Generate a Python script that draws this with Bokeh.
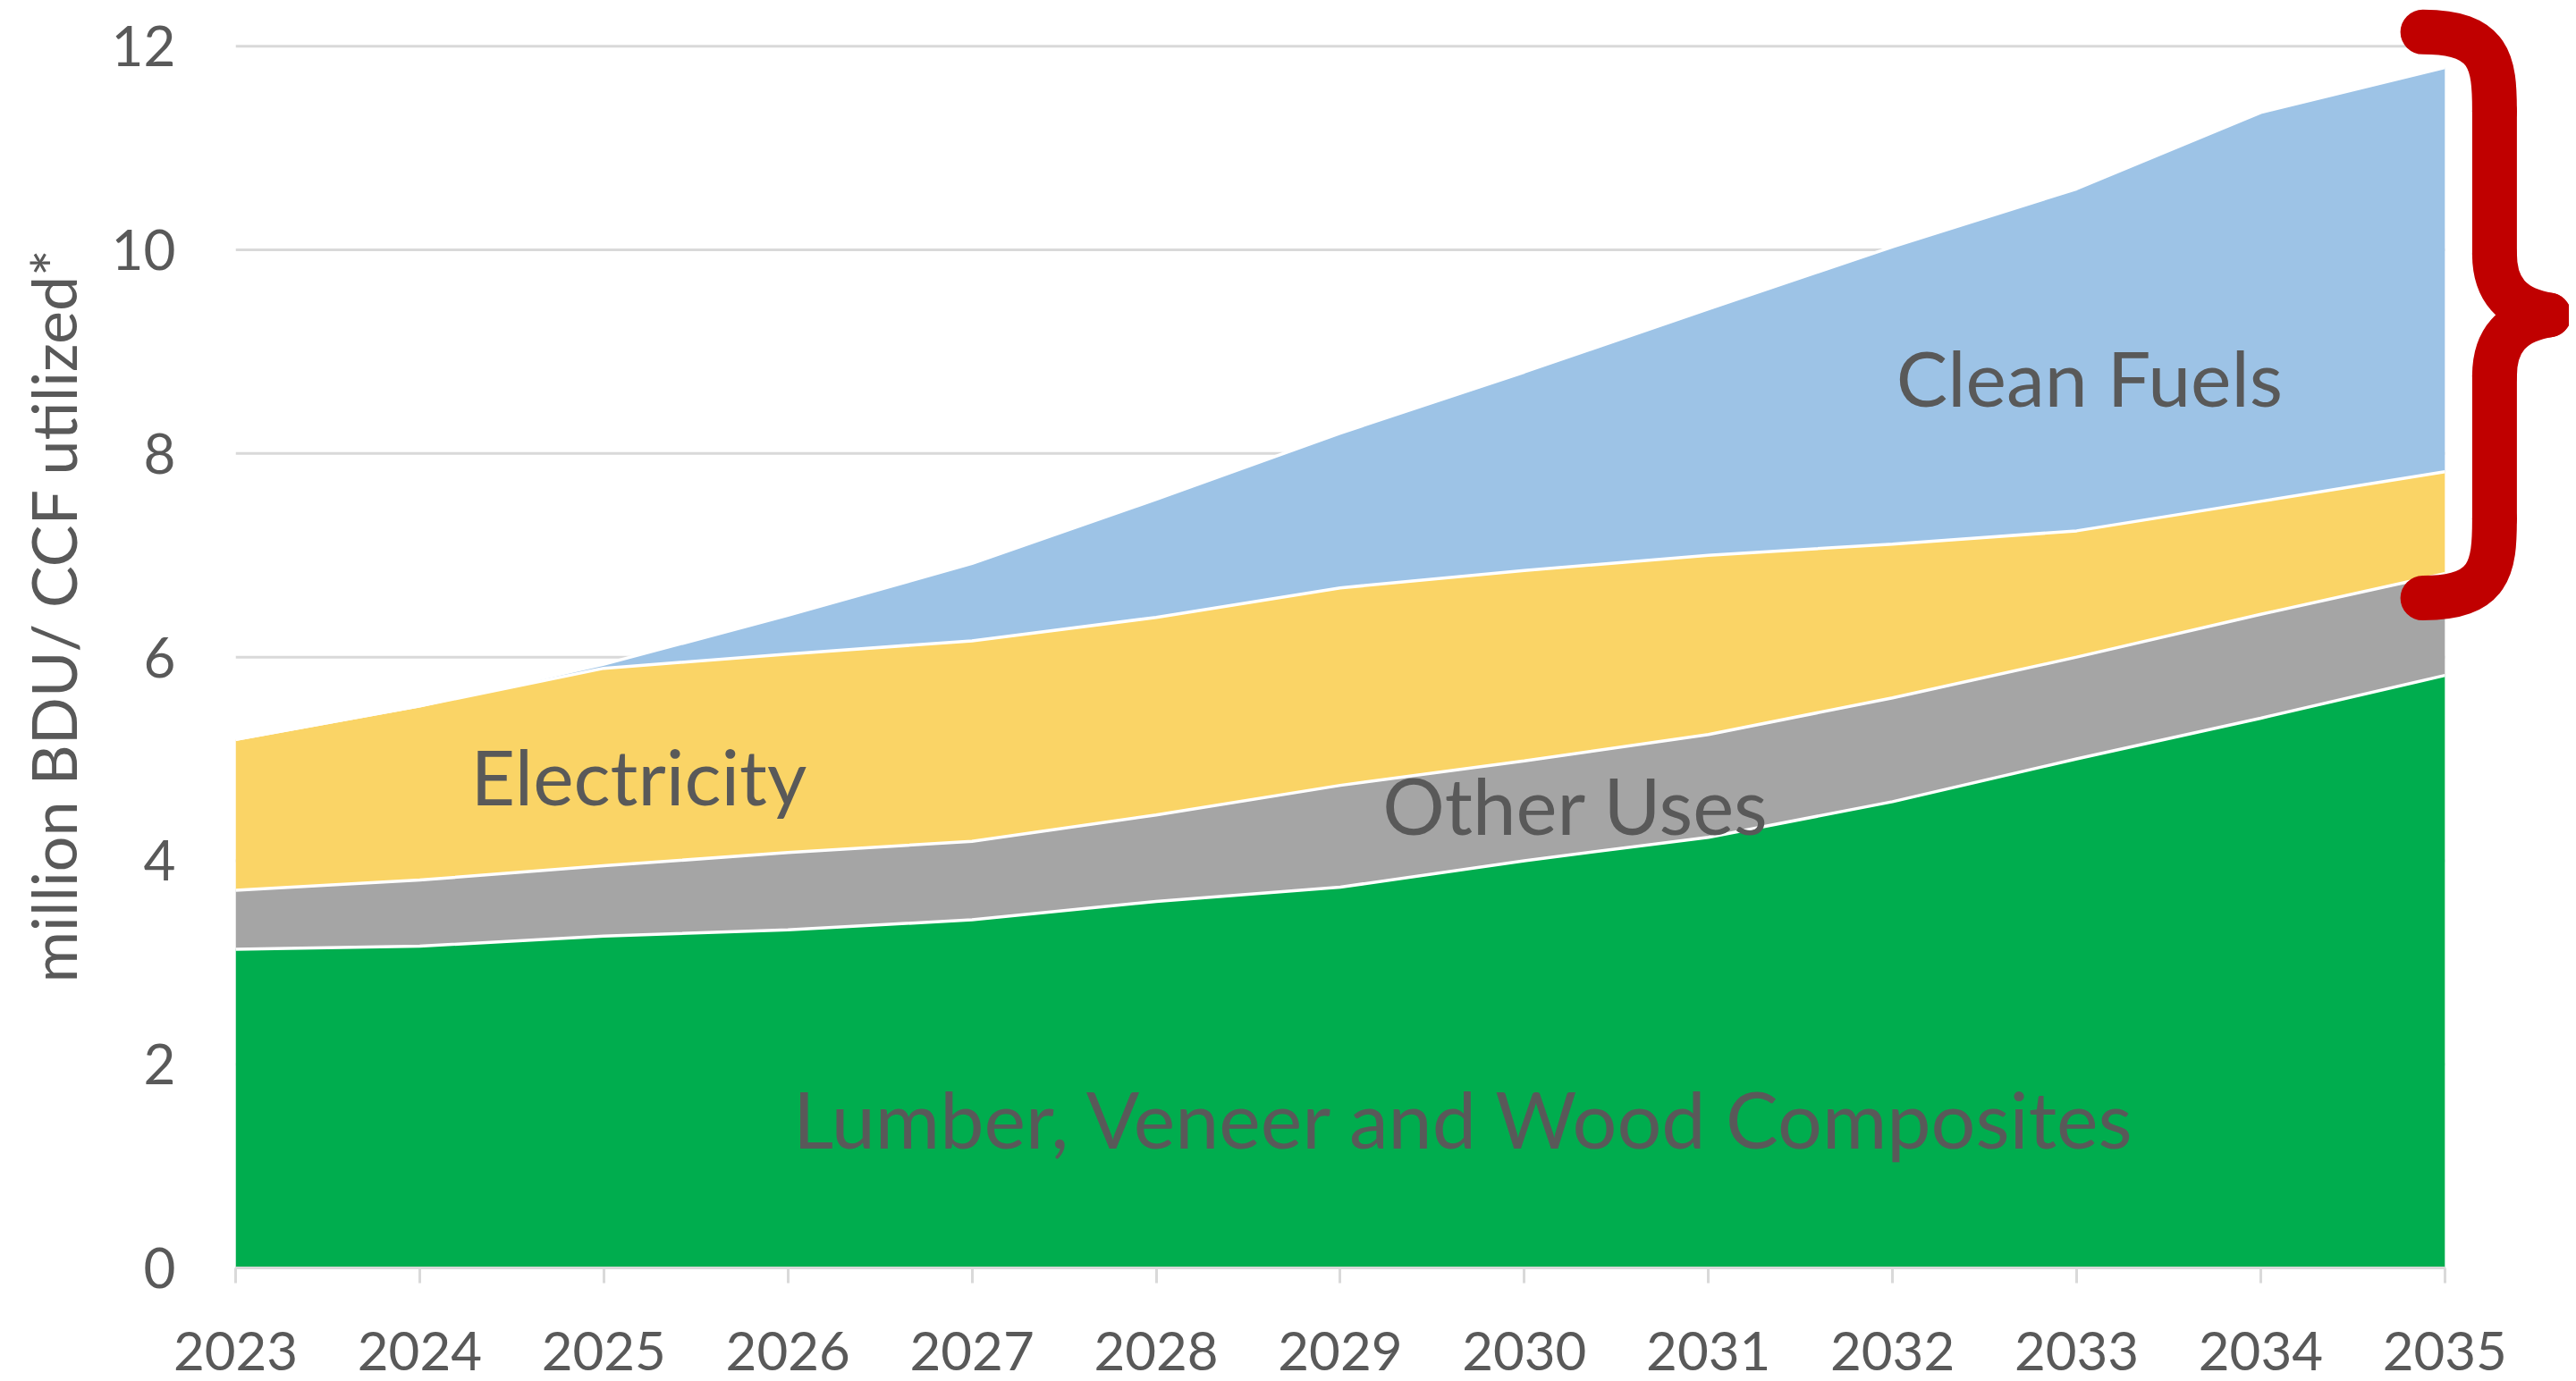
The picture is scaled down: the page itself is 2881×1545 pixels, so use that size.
from bokeh.plotting import figure
from bokeh.models import Range1d, FixedTicker, Title
from bokeh.core.properties import value
from bokeh.embed import file_html
from bokeh.resources import INLINE
import numpy as np

years = [2023, 2024, 2025, 2026, 2027, 2028, 2029, 2030, 2031, 2032, 2033, 2034, 2035]
lumber = [3.13, 3.16, 3.26, 3.32, 3.42, 3.60, 3.74, 4.00, 4.23, 4.58, 5.00, 5.40, 5.82]
other_uses = [0.58, 0.65, 0.69, 0.76, 0.77, 0.85, 1.00, 0.98, 1.01, 1.02, 1.00, 1.02, 1.00]
electricity = [1.48, 1.71, 1.94, 1.95, 1.97, 1.94, 1.94, 1.87, 1.76, 1.51, 1.24, 1.11, 1.00]
clean_fuels = [0.00, 0.00, 0.04, 0.38, 0.76, 1.16, 1.52, 1.95, 2.42, 2.92, 3.36, 3.82, 3.97]
y_ticks = [0, 2, 4, 6, 8, 10, 12]
y_title = "million BDU/ CCF utilized*"

series_names = ["Lumber, Veneer and Wood Composites", "Other Uses", "Electricity", "Clean Fuels"]
series_colors = ["#00ad4e", "#a5a5a5", "#fad466", "#9dc3e6"]
label_x = [2029.68, 2030.28, 2025.19, 2033.07]
label_y = [1.47, 4.55, 4.84, 8.75]
label_size = ["88px", "87px", "86px", "86px"]

x = np.array(years, dtype=float)
layers = [np.array(s) for s in (lumber, other_uses, electricity, clean_fuels)]
cum = np.cumsum(np.vstack(layers), axis=0)

W, H = 2873, 1544
p = figure(width=W, height=H, output_backend="svg", toolbar_location=None,
           x_range=Range1d(2023, 2035.676), y_range=Range1d(0, 12.45),
           min_border_left=263, min_border_right=0, min_border_top=0, min_border_bottom=126)
p.outline_line_color = None
p.background_fill_color = "white"
p.border_fill_color = "white"
p.xgrid.visible = False
p.ygrid.visible = False

# gridlines (behind areas)
grid_y = [t for t in y_ticks if t > 0]
p.segment(x0=[years[0]] * len(grid_y), x1=[years[-1]] * len(grid_y), y0=grid_y, y1=grid_y,
          line_color="#d9d9d9", line_width=3)

# stacked areas
bottom = np.zeros_like(x)
for i, layer in enumerate(layers):
    top = cum[i]
    p.varea(x=x, y1=bottom, y2=top, fill_color=series_colors[i], fill_alpha=1)
    bottom = top
for i in range(len(layers)):
    p.line(x=x, y=cum[i], line_color="white", line_width=3.5)

# labels
for i in range(4):
    p.text(x=[label_x[i]], y=[label_y[i]], text=[series_names[i]],
           text_font=value("Lato"), text_font_size=label_size[i],
           text_color="#595959", text_align="center", text_baseline="middle")

# red brace next to the 2035 stack (clean fuels + electricity)
xe = years[-1]
b_top = cum[3][-1] + 0.35
b_bot = cum[1][-1] - 0.24
b_mid = (b_top + b_bot) / 2
x_end = xe - 0.12
x_stem = xe + 0.27
x_tip = xe + 0.565
curl = 0.78
tipc = 0.60
bx0 = [x_end, x_stem, x_stem, x_end]
by0 = [b_top, b_mid + tipc, b_mid - tipc, b_bot]
bx1 = [x_stem, x_tip, x_tip, x_stem]
by1 = [b_top - curl, b_mid, b_mid, b_bot + curl]
bcx0 = [x_stem - 0.02, x_stem, x_stem, x_stem - 0.02]
bcy0 = [b_top, b_mid + 0.25, b_mid - 0.25, b_bot]
bcx1 = [x_stem, x_tip - 0.2, x_tip - 0.2, x_stem]
bcy1 = [b_top - 0.3, b_mid + 0.06, b_mid - 0.06, b_bot + 0.3]
p.bezier(x0=bx0, y0=by0, x1=bx1, y1=by1, cx0=bcx0, cy0=bcy0, cx1=bcx1, cy1=bcy1,
         line_color="#c00000", line_width=50, line_cap="round")
p.segment(x0=[x_stem, x_stem], y0=[b_top - curl, b_mid - tipc],
          x1=[x_stem, x_stem], y1=[b_mid + tipc, b_bot + curl],
          line_color="#c00000", line_width=50, line_cap="round")

# axes
xa = p.xaxis[0]
xa.ticker = FixedTicker(ticks=years)
xa.bounds = (years[0], years[-1])
xa.axis_line_color = "#d9d9d9"
xa.axis_line_width = 3
xa.major_tick_line_color = "#d9d9d9"
xa.major_tick_line_width = 3
xa.major_tick_in = 0
xa.major_tick_out = 17
xa.minor_tick_line_color = None
xa.major_label_standoff = 54
xa.major_label_text_font = "Lato"
xa.major_label_text_font_size = "60px"
xa.major_label_text_color = "#595959"

ya = p.yaxis[0]
ya.ticker = FixedTicker(ticks=y_ticks)
ya.axis_line_color = None
ya.major_tick_line_color = None
ya.minor_tick_line_color = None
ya.major_label_standoff = 61
ya.major_label_text_font = "Lato"
ya.major_label_text_font_size = "62px"
ya.major_label_text_color = "#595959"

# small empty spacer between tick labels and the rotated axis title
p.add_layout(Title(text=" ", text_font_size="12px", standoff=0), "left")
p.add_layout(Title(text=y_title, align="left", offset=319, standoff=10,
                   text_font="Lato", text_font_size="70px", text_font_style="normal",
                   text_color="#595959"), "left")

open("out.html", "w").write(file_html(p, INLINE))
